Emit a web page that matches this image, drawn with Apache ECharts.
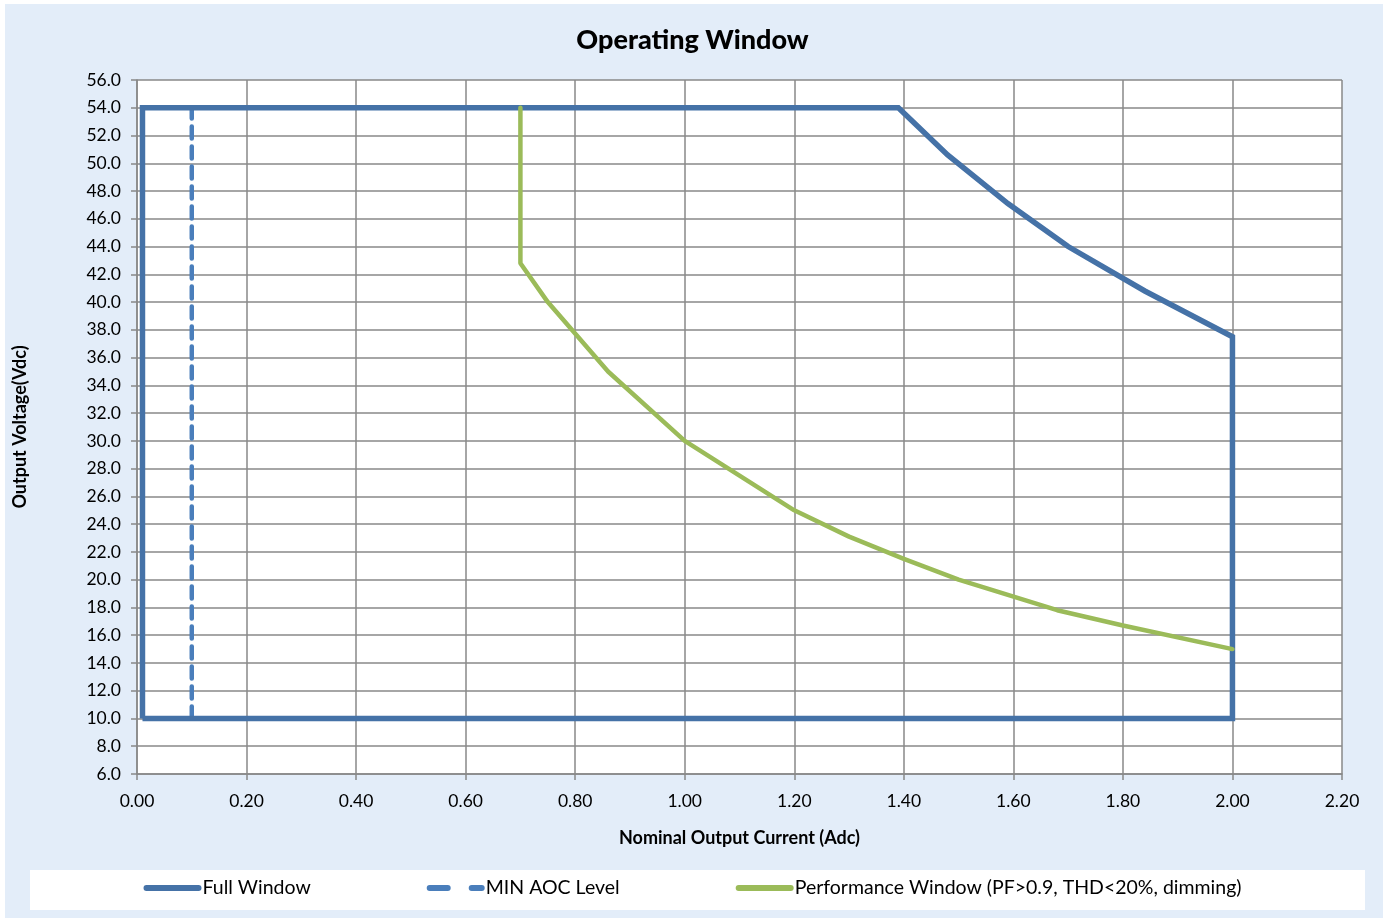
<!DOCTYPE html>
<html>
<head>
<meta charset="utf-8">
<script src="https://cdn.jsdelivr.net/npm/echarts@6/dist/echarts.min.js"></script>
<style>
html,body{margin:0;padding:0;background:#fff;}
#c{width:1385px;height:920px;}
</style>
</head>
<body>
<div id="c"></div>
<script>
// Data (x = current in Adc, y = voltage in Vdc)
const fullWindowX = [0.01, 0.01, 1.39, 1.48, 1.59, 1.70, 1.84, 2.00, 2.00, 0.01];
const fullWindowY = [10.0, 54.0, 54.0, 50.6, 47.1, 44.0, 40.8, 37.5, 10.0, 10.0];
const minAocX = [0.10, 0.10];
const minAocY = [10.0, 54.0];
const perfX = [0.70, 0.70, 0.75, 0.86, 1.00, 1.20, 1.30, 1.40, 1.50, 1.68, 1.80, 2.00];
const perfY = [54.0, 42.8, 40.0, 35.0, 30.0, 25.0, 23.1, 21.5, 20.0, 17.8, 16.7, 15.0];
const seriesNames = ['Full Window', 'MIN AOC Level', 'Performance Window (PF>0.9, THD<20%, dimming)'];
const titleText = 'Operating Window';
const xName = 'Nominal Output Current (Adc)';
const yName = 'Output Voltage(Vdc)';

const zip = (xs, ys) => xs.map((x, i) => [x, ys[i]]);
const FONT = 'Lato, "Open Sans", sans-serif';

const chart = echarts.init(document.getElementById('c'), null, {renderer: 'canvas'});
chart.setOption({
  backgroundColor: '#ffffff',
  animation: false,
  graphic: [
    {type: 'rect', z: -100, shape: {x: 5, y: 4, width: 1378, height: 914}, style: {fill: '#E3EDF9'}},
    {type: 'rect', z: -90, shape: {x: 30, y: 870, width: 1335, height: 40}, style: {fill: '#ffffff'}}
  ],
  title: {
    text: titleText, left: 'center', top: 22,
    textStyle: {fontFamily: FONT, fontSize: 27, fontWeight: 900, color: '#000'}
  },
  legend: {
    bottom: 17, left: 'center', itemGap: 116, itemWidth: 58, itemHeight: 6,
    textStyle: {fontFamily: FONT, fontSize: 19.5, color: '#000', padding: [0, 0, 0, -4]},
    data: [
      {name: seriesNames[0], icon: 'path://M3,0H55A3,3 0 0 1 55,6H3A3,3 0 0 1 3,0Z'},
      {name: seriesNames[1], icon: 'path://M3,0H21A3,3 0 0 1 21,6H3A3,3 0 0 1 3,0Z M45,0H55A3,3 0 0 1 55,6H45A3,3 0 0 1 45,0Z'},
      {name: seriesNames[2], icon: 'path://M3,0H55A3,3 0 0 1 55,6H3A3,3 0 0 1 3,0Z'}
    ]
  },
  grid: {left: 137, right: 43, top: 80, bottom: 146, show: true, backgroundColor: '#fff', borderWidth: 0},
  xAxis: {
    type: 'value', min: 0, max: 2.2, interval: 0.2,
    name: xName, nameLocation: 'middle', nameGap: 55,
    nameTextStyle: {fontFamily: FONT, fontSize: 18, fontWeight: 'bold', color: '#000'},
    axisLine: {show: true, lineStyle: {color: '#888', width: 1.5}},
    axisTick: {show: true, length: 6, lineStyle: {color: '#888', width: 1.5}},
    axisLabel: {fontFamily: FONT, fontSize: 17.5, color: '#000', margin: 18, formatter: v => v.toFixed(2)},
    splitLine: {show: true, lineStyle: {color: '#888', width: 1.5}}
  },
  yAxis: {
    type: 'value', min: 6, max: 56, interval: 2,
    name: yName, nameLocation: 'middle', nameGap: 108, nameRotate: 90,
    nameTextStyle: {fontFamily: FONT, fontSize: 18, fontWeight: 'bold', color: '#000'},
    axisLine: {show: true, lineStyle: {color: '#888', width: 1.5}},
    axisTick: {show: true, length: 6, lineStyle: {color: '#888', width: 1.5}},
    axisLabel: {fontFamily: FONT, fontSize: 17.5, color: '#000', margin: 16, formatter: v => v.toFixed(1)},
    splitLine: {show: true, lineStyle: {color: '#888', width: 1.5}}
  },
  series: [
    {
      name: seriesNames[0], type: 'line', symbol: 'none', z: 3,
      data: zip(fullWindowX, fullWindowY),
      lineStyle: {color: '#4572A7', width: 5.5, join: 'miter'},
      itemStyle: {color: '#4572A7'}
    },
    {
      name: seriesNames[1], type: 'line', symbol: 'none', z: 2,
      data: zip(minAocX, minAocY),
      lineStyle: {color: '#4A7EBB', width: 4.5, type: [12, 8], cap: 'round'},
      itemStyle: {color: '#4A7EBB'}
    },
    {
      name: seriesNames[2], type: 'line', symbol: 'none', z: 4,
      data: zip(perfX, perfY),
      lineStyle: {color: '#9BBB59', width: 4.5, cap: 'round'},
      itemStyle: {color: '#9BBB59'}
    }
  ]
});
</script>
</body>
</html>
